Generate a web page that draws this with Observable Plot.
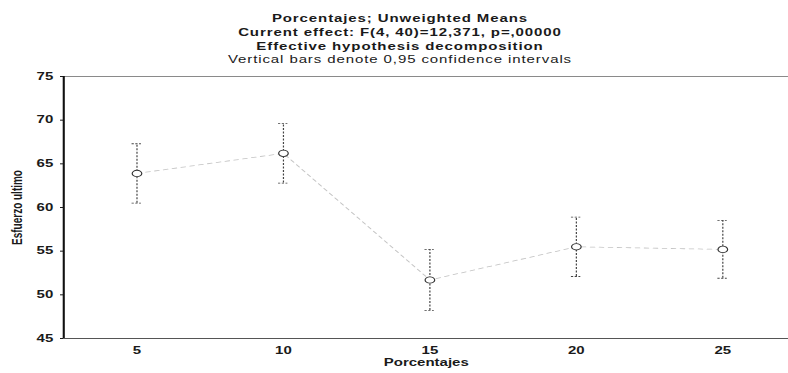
<!DOCTYPE html>
<html><head><meta charset="utf-8">
<script src="https://cdn.jsdelivr.net/npm/d3@7"></script>
<script src="https://cdn.jsdelivr.net/npm/@observablehq/plot@0.6"></script>
<style>
html,body{margin:0;padding:0;background:#fff;overflow:hidden;}
#wrap{position:relative;width:525.333px;height:373px;transform:scaleX(1.5);transform-origin:0 0;font-family:"Liberation Sans",Arial,sans-serif;color:#1a1a1a;}
#title{position:absolute;left:0;top:0;width:533.33px;height:66px;text-align:center;font-size:10px;line-height:13.8px;padding-top:12px;box-sizing:border-box;letter-spacing:0.6px;}
#chart{position:absolute;left:0;top:66px;}
#chart svg{overflow:visible;}
#chart svg text{font-weight:bold;}
</style></head><body>
<div id="wrap"><div id="title"></div><div id="chart"></div></div>
<script>
const titleLines = [
  "Porcentajes; Unweighted Means",
  "Current effect: F(4, 40)=12,371, p=,00000",
  "Effective hypothesis decomposition",
  "Vertical bars denote 0,95 confidence intervals"
];
const titleBold = [true, true, true, false];
const pcts = [5, 10, 15, 20, 25];
const means = [63.9, 66.2, 51.7, 55.5, 55.2];
const lower = [60.5, 62.8, 48.2, 52.1, 51.9];
const upper = [67.3, 69.6, 55.2, 58.9, 58.5];
const xTicks = [5, 10, 15, 20, 25];
const yTicks = [45, 50, 55, 60, 65, 70, 75];
const xLabel = "Porcentajes";
const yLabel = "Esfuerzo ultimo";

const title = document.getElementById("title");
titleLines.forEach((t, i) => {
  const d = document.createElement("div");
  d.textContent = t;
  d.style.fontWeight = titleBold[i] ? "bold" : "normal";
  title.appendChild(d);
});

const data = pcts.map((p, i) => ({pct: p, mean: means[i], lo: lower[i], hi: upper[i]}));
const S = 1.5;
const W = 788 / S;
const capHalf = 0.16;

const chart = Plot.plot({
  width: W, height: 307,
  marginTop: 10, marginBottom: 35, marginLeft: 42, marginRight: 0,
  style: {fontFamily: "Liberation Sans, Arial, sans-serif", fontSize: "10px", color: "#1a1a1a", background: "white", overflow: "visible"},
  x: {type: "linear", domain: [2.5, 27.25]},
  y: {domain: [45, 75]},
  marks: [
    Plot.ruleY([75], {stroke: "#8a8a8a", strokeWidth: 1}),
    Plot.ruleY([45], {stroke: "#555", strokeWidth: 1}),
    Plot.ruleX([2.5], {stroke: "#111", strokeWidth: 1.4}),
    Plot.axisY({ticks: yTicks, tickSize: 2, tickPadding: 5, tickFormat: d => String(d), label: yLabel, labelAnchor: "center", labelArrow: "none", labelOffset: 35}),
    Plot.axisX({ticks: xTicks, tickSize: 0, tickPadding: 8, tickFormat: d => String(d), label: xLabel, labelAnchor: "center", labelArrow: "none", labelOffset: 28}),
    Plot.line(data, {x: "pct", y: "mean", stroke: "#c4c4c4", strokeWidth: 0.8, strokeDasharray: "3,3"}),
    Plot.ruleX(data, {x: "pct", y1: "lo", y2: "hi", stroke: "#444", strokeWidth: 0.8, strokeDasharray: "2,1.5"}),
    Plot.ruleY(data, {y: "hi", x1: d => d.pct - capHalf, x2: d => d.pct + capHalf, stroke: "#444", strokeWidth: 0.8, strokeDasharray: "1.5,1"}),
    Plot.ruleY(data, {y: "lo", x1: d => d.pct - capHalf, x2: d => d.pct + capHalf, stroke: "#444", strokeWidth: 0.8, strokeDasharray: "1.5,1"}),
    Plot.dot(data, {x: "pct", y: "mean", r: 3.2, stroke: "#333", strokeWidth: 0.8, fill: "white"})
  ]
});
document.getElementById("chart").appendChild(chart);
</script>
</body></html>
